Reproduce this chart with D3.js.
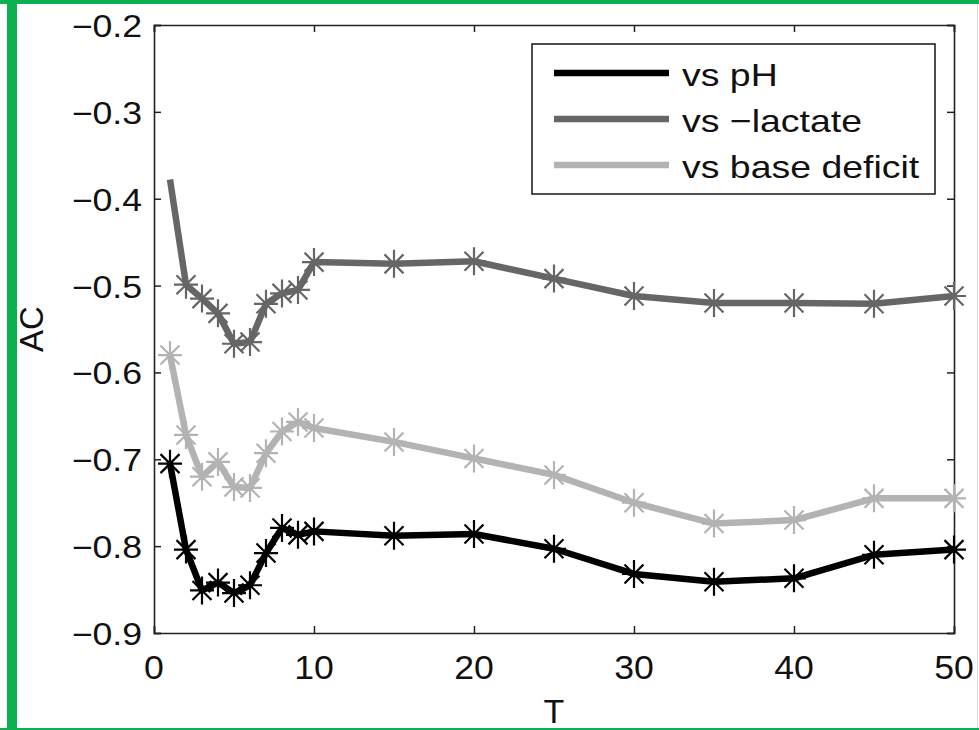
<!DOCTYPE html>
<html><head><meta charset="utf-8">
<script src="https://cdn.jsdelivr.net/npm/d3@7"></script>
<style>
html,body{margin:0;padding:0;background:#fff;}
svg{display:block;}
text{font-family:"Liberation Sans",Arial,Helvetica,sans-serif;fill:#111;}
</style></head>
<body>
<svg id="chart" width="979" height="730"></svg>
<script>
const T = [1,2,3,4,5,6,7,8,9,10,15,20,25,30,35,40,45,50];
const vsPH = [-0.705,-0.804,-0.851,-0.842,-0.854,-0.845,-0.808,-0.779,-0.787,-0.783,-0.788,-0.786,-0.803,-0.832,-0.841,-0.837,-0.810,-0.804];
const vsLactate = [-0.378,-0.499,-0.515,-0.532,-0.567,-0.565,-0.521,-0.509,-0.505,-0.473,-0.475,-0.472,-0.492,-0.512,-0.520,-0.520,-0.521,-0.512];
const vsBase = [-0.580,-0.672,-0.720,-0.703,-0.732,-0.733,-0.693,-0.668,-0.657,-0.664,-0.680,-0.699,-0.718,-0.750,-0.774,-0.770,-0.745,-0.745];
const seriesNames = ["vs pH","vs \u2212lactate","vs base deficit"];
const xTicks = [0,10,20,30,40,50];
const yTicks = [-0.9,-0.8,-0.7,-0.6,-0.5,-0.4,-0.3,-0.2];
const xLabel = "T";
const yLabel = "AC";

const series = [
  {name: seriesNames[0], values: vsPH, color: "#000000", markFrom: 0},
  {name: seriesNames[1], values: vsLactate, color: "#666666", markFrom: 1},
  {name: seriesNames[2], values: vsBase, color: "#b3b3b3", markFrom: 0}
];

const svg = d3.select("#chart");
const L = 154, R = 954, TOP = 25, BOT = 633;
const x = d3.scaleLinear().domain([0,50]).range([L,R]);
const y = d3.scaleLinear().domain([-0.9,-0.2]).range([BOT,TOP]);
const fmtY = d3.format(".1f");

// frame border decoration (green)
svg.append("rect").attr("x",0).attr("y",0).attr("width",979).attr("height",730).attr("fill","#fff");

// axes box
const axisColor = "#222";
const gx = svg.append("g").attr("transform",`translate(0,${BOT})`)
  .call(d3.axisBottom(x).tickValues(xTicks).tickSize(-7).tickFormat(""));
const gxt = svg.append("g").attr("transform",`translate(0,${TOP})`)
  .call(d3.axisTop(x).tickValues(xTicks).tickSize(-7).tickFormat(""));
const gy = svg.append("g").attr("transform",`translate(${L},0)`)
  .call(d3.axisLeft(y).tickValues(yTicks).tickSize(-7).tickFormat(""));
const gyr = svg.append("g").attr("transform",`translate(${R},0)`)
  .call(d3.axisRight(y).tickValues(yTicks).tickSize(-7).tickFormat(""));
[gx,gxt,gy,gyr].forEach(g=>{
  g.selectAll("path").attr("stroke",axisColor).attr("stroke-width",1.6);
  g.selectAll("line").attr("stroke",axisColor).attr("stroke-width",1.5);
});

// tick labels
xTicks.forEach(t=>{
  svg.append("g").attr("transform",`translate(${x(t)},679)`)
    .append("text").attr("text-anchor","middle").attr("font-size",33)
    .attr("transform","scale(1.08,1)").text(String(t));
});
yTicks.forEach(v=>{
  svg.append("g").attr("transform",`translate(142,${y(v)+12})`)
    .append("text").attr("text-anchor","end").attr("font-size",31)
    .attr("transform","scale(1.15,1)").text(fmtY(v).replace("-","\u2212"));
});
svg.append("text").attr("x",(L+R)/2).attr("y",723).attr("text-anchor","middle")
  .attr("font-size",34).text(xLabel);
svg.append("text").attr("transform",`translate(43,${(TOP+BOT)/2}) rotate(-90)`)
  .attr("text-anchor","middle").attr("font-size",33).text(yLabel);

// lines
const line = d3.line().x((d,i)=>x(T[i])).y(d=>y(d));
series.forEach(s=>{
  svg.append("path").datum(s.values).attr("d",line).attr("fill","none")
    .attr("stroke",s.color).attr("stroke-width",6.5).attr("stroke-linejoin","round");
});
// star markers
function starPath(cx,cy){
  const h=12, v=14, d=9.5;
  return `M${cx-h},${cy}L${cx+h},${cy}M${cx},${cy-v}L${cx},${cy+v}`+
         `M${cx-d},${cy-d}L${cx+d},${cy+d}M${cx-d},${cy+d}L${cx+d},${cy-d}`;
}
series.forEach(s=>{
  svg.append("g").selectAll("path").data(s.values.map((v,i)=>[T[i],v]).slice(s.markFrom))
    .join("path").attr("d",d=>starPath(x(d[0]),y(d[1])))
    .attr("stroke",s.color).attr("stroke-width",2.2).attr("fill","none");
});

// legend
const lg = svg.append("g");
lg.append("rect").attr("x",532).attr("y",44).attr("width",403).attr("height",150)
  .attr("fill","#fff").attr("stroke",axisColor).attr("stroke-width",1.6);
series.forEach((s,i)=>{
  const yy = 73 + i*46;
  lg.append("line").attr("x1",554).attr("x2",669).attr("y1",yy).attr("y2",yy)
    .attr("stroke",s.color).attr("stroke-width",6.5);
  lg.append("g").attr("transform",`translate(682,${yy+13})`)
    .append("text").attr("font-size",32).attr("transform","scale(1.17,1)").text(s.name);
});

// green frame
const green = "#0bb04f";
svg.append("rect").attr("x",0).attr("y",0).attr("width",979).attr("height",4).attr("fill",green);
svg.append("rect").attr("x",7).attr("y",0).attr("width",10).attr("height",730).attr("fill",green);
svg.append("rect").attr("x",0).attr("y",728).attr("width",979).attr("height",2).attr("fill",green);
svg.append("line").attr("x1",977.5).attr("x2",977.5).attr("y1",4).attr("y2",728).attr("stroke","#ddd").attr("stroke-width",1);
</script>
</body></html>
